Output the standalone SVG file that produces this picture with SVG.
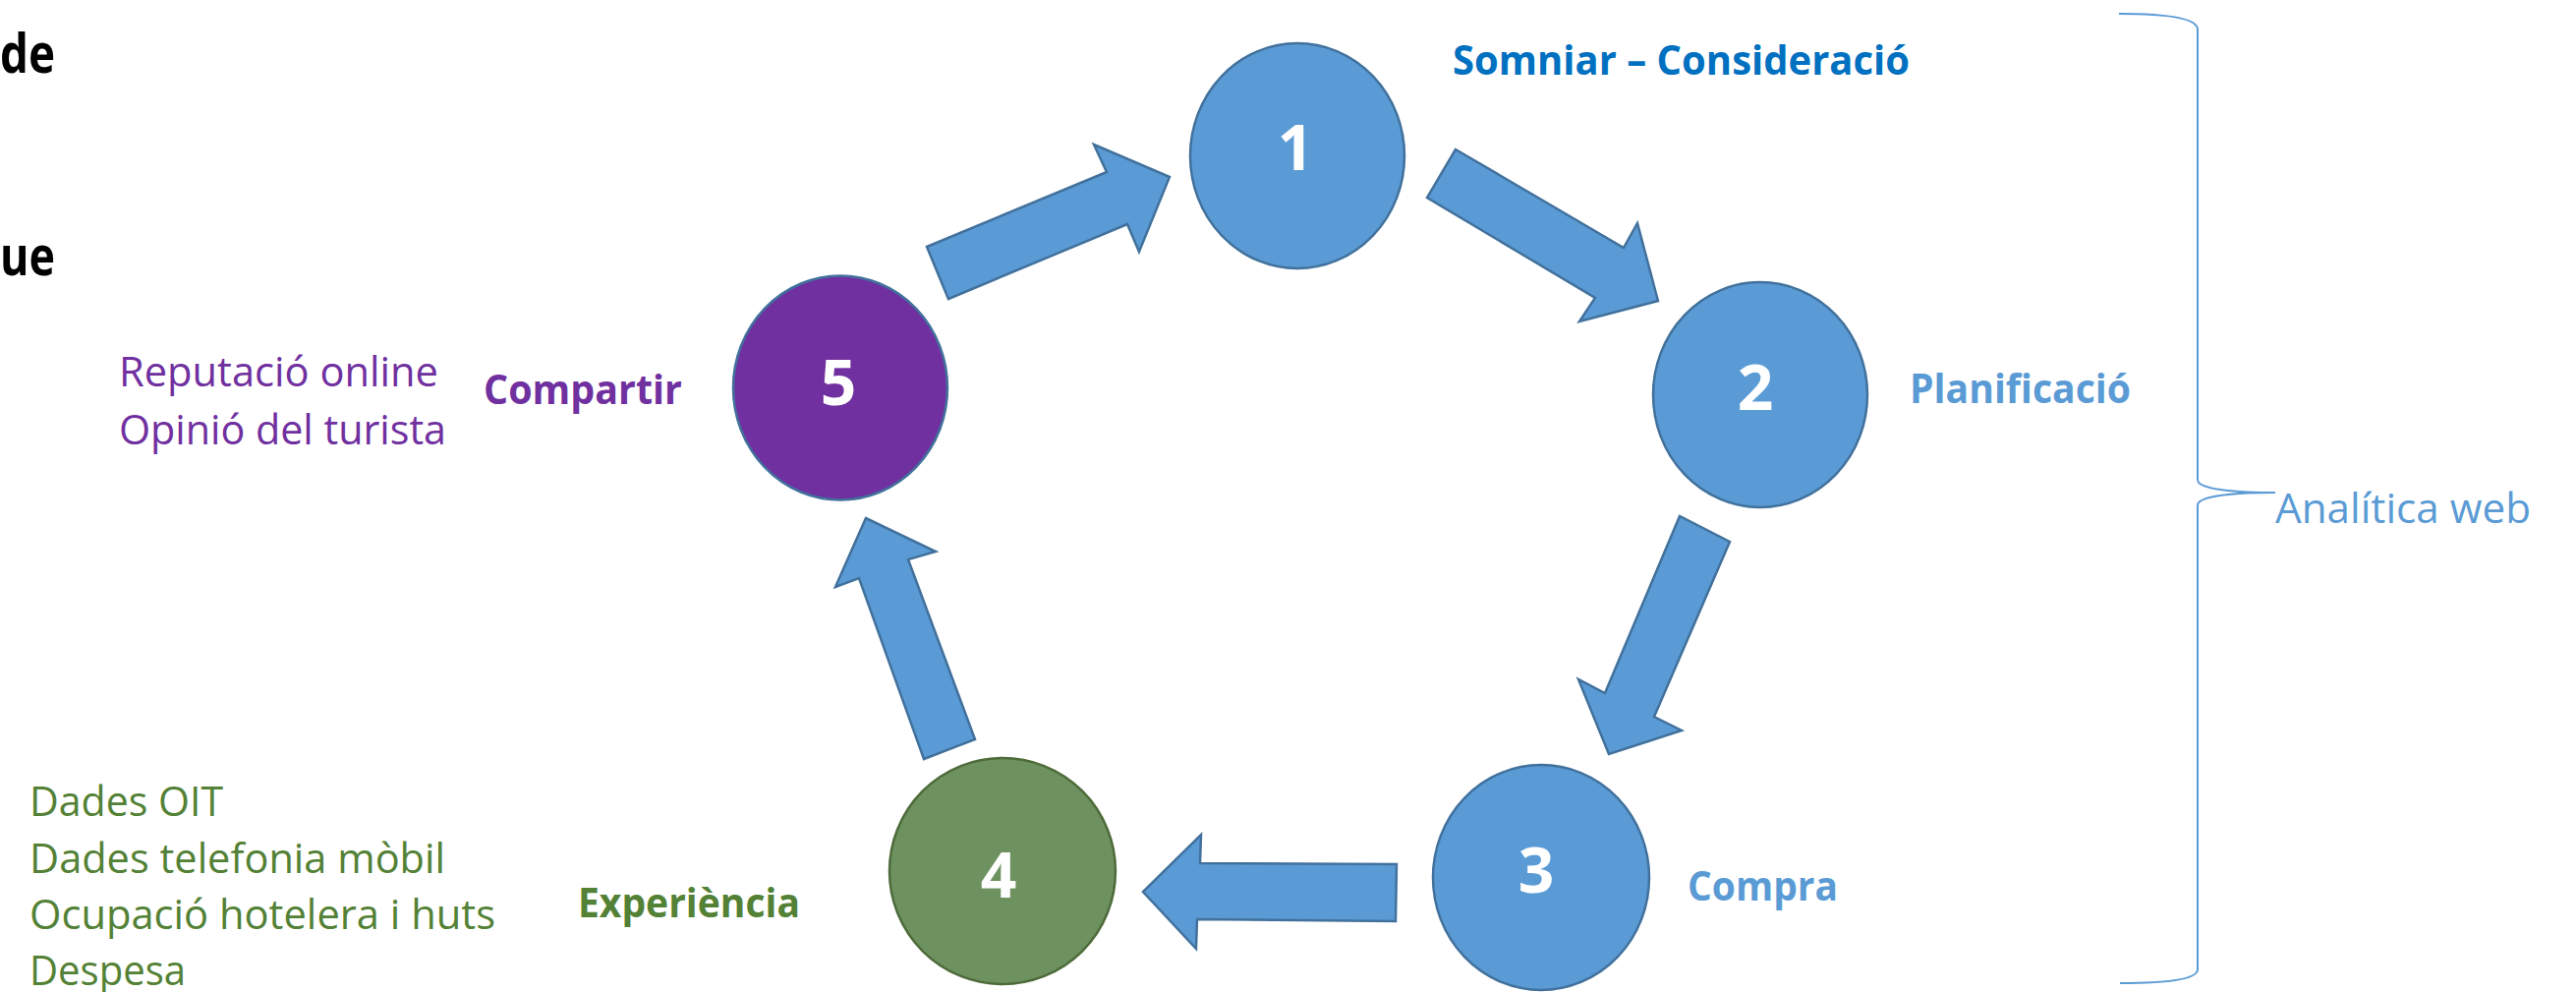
<svg xmlns="http://www.w3.org/2000/svg" width="2621" height="1009" viewBox="0 0 2621 1009">
<style>
  text { font-family: "Open Sans", "Noto Sans", "DejaVu Sans", sans-serif; }
  .num { font-size: 64px; font-weight: 700; fill: #FFFFFF; text-anchor: middle; }
  .lbl { font-size: 42px; font-weight: 700; }
  .txt { font-size: 42px; font-weight: 400; }
  .blue { fill: #5B9BD5; stroke: #41719C; stroke-width: 2.5; }
  .arrow { fill: #5B9BD5; stroke: #41719C; stroke-width: 2.5; stroke-linejoin: miter; }
  .purple-t { fill: #7030A0; }
  .green-t { fill: #538135; }
  .lblue-t { fill: #5B9BD5; }
  .dblue-t { fill: #0070C0; }
</style>
<rect width="2621" height="1009" fill="#FFFFFF"/>

<g id="title-fragments">
  <text x="0" y="74" font-size="56" font-weight="700" fill="#000000" textLength="56" lengthAdjust="spacingAndGlyphs">de</text>
  <text x="0" y="280" font-size="56" font-weight="700" fill="#000000" textLength="56" lengthAdjust="spacingAndGlyphs">ue</text>
</g>

<g id="connectors">
  <polygon class="arrow" points="943,251 1126,175 1113,147 1190,180 1159,256 1147,228 965,304"/>
  <polygon class="arrow" points="1481,152 1652,252 1666,227 1687,306 1607,327 1623,303 1452,201"/>
  <polygon class="arrow" points="1760,551 1683,729 1711,743 1637,767 1606,691 1633,705 1709,525"/>
  <polygon class="arrow" points="1421,879 1221,878 1222,849 1163,907 1217,965 1218,935 1420,937"/>
  <polygon class="arrow" points="992,752 924,569 952,561 881,527 850,597 874,588 940,772"/>
</g>

<g id="node1">
  <ellipse class="blue" cx="1320" cy="158.5" rx="109" ry="114.5"/>
  <text class="num" x="1318" y="173">1</text>
  <text class="lbl dblue-t" x="1478" y="76" textLength="465" lengthAdjust="spacingAndGlyphs">Somniar – Consideració</text>
</g>

<g id="node2">
  <ellipse class="blue" cx="1791" cy="401.5" rx="109" ry="114.5"/>
  <text class="num" x="1786" y="417">2</text>
  <text class="lbl lblue-t" x="1943" y="410" textLength="225" lengthAdjust="spacingAndGlyphs">Planificació</text>
</g>

<g id="node3">
  <ellipse class="blue" cx="1568" cy="892.5" rx="110" ry="114.5"/>
  <text class="num" x="1563" y="908">3</text>
  <text class="lbl lblue-t" x="1717" y="916" textLength="153" lengthAdjust="spacingAndGlyphs">Compra</text>
</g>

<g id="node4">
  <ellipse cx="1020" cy="886" rx="115" ry="115" fill="#6E9160" stroke="#4E6B3A" stroke-width="2.5"/>
  <text class="num" x="1016" y="913">4</text>
  <text class="lbl green-t" x="588" y="933" textLength="226" lengthAdjust="spacingAndGlyphs">Experiència</text>
  <text class="txt green-t" x="30" y="830" textLength="197" lengthAdjust="spacingAndGlyphs">Dades OIT</text>
  <text class="txt green-t" x="30" y="888" textLength="423" lengthAdjust="spacingAndGlyphs">Dades telefonia mòbil</text>
  <text class="txt green-t" x="30" y="945" textLength="474" lengthAdjust="spacingAndGlyphs">Ocupació hotelera i huts</text>
  <text class="txt green-t" x="30" y="1002" textLength="159" lengthAdjust="spacingAndGlyphs">Despesa</text>
</g>

<g id="node5">
  <ellipse cx="855" cy="394.5" rx="109" ry="114" fill="#7030A0" stroke="#41719C" stroke-width="2.5"/>
  <text class="num" x="853" y="412">5</text>
  <text class="lbl purple-t" x="492" y="411" textLength="202" lengthAdjust="spacingAndGlyphs">Compartir</text>
  <text class="txt purple-t" x="121" y="393" textLength="325" lengthAdjust="spacingAndGlyphs">Reputació online</text>
  <text class="txt purple-t" x="121" y="452" textLength="333" lengthAdjust="spacingAndGlyphs">Opinió del turista</text>
</g>

<g id="brace">
  <path d="M2156,14 C2212,14 2236,20 2236,30 L2236,488 C2236,496 2262,501 2315,501 C2262,501 2236,506 2236,514 L2236,986 C2236,995 2212,1000 2157,1000" fill="none" stroke="#5B9BD5" stroke-width="2"/>
  <text class="txt lblue-t" x="2315" y="532" textLength="260" lengthAdjust="spacingAndGlyphs">Analítica web</text>
</g>
</svg>
